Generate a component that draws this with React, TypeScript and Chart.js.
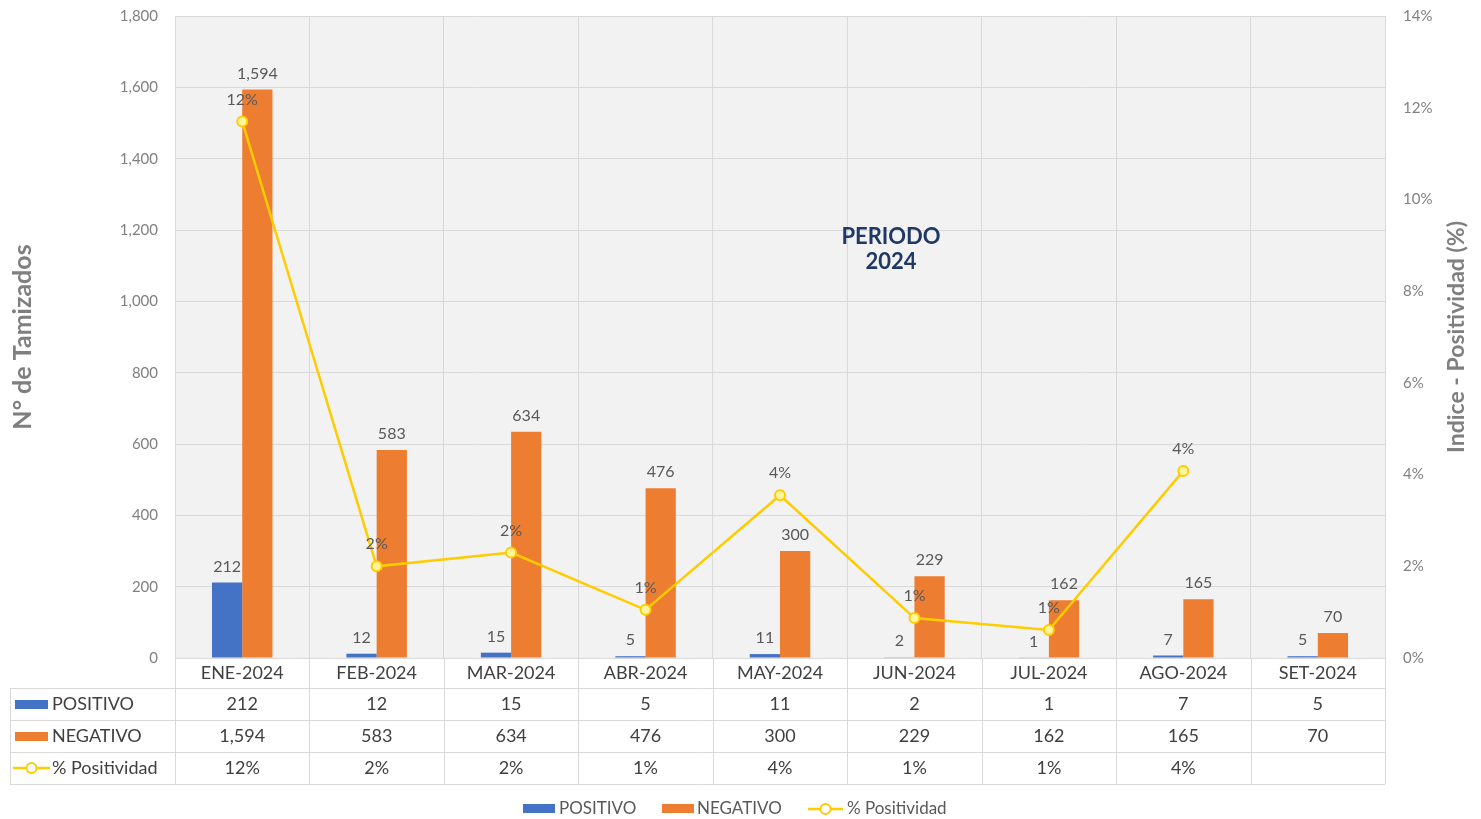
import React, { useEffect, useRef } from "react";
import { Chart, registerables } from "chart.js";

Chart.register(...registerables);

const categories = ["ENE-2024", "FEB-2024", "MAR-2024", "ABR-2024", "MAY-2024", "JUN-2024", "JUL-2024", "AGO-2024", "SET-2024"];
const positivo = [212, 12, 15, 5, 11, 2, 1, 7, 5];
const negativo = [1594, 583, 634, 476, 300, 229, 162, 165, 70];
const positividad: (number | null)[] = [11.7, 2.0, 2.3, 1.05, 3.55, 0.87, 0.61, 4.08, null];
const positividadLabels = ["12%", "2%", "2%", "1%", "4%", "1%", "1%", "4%", ""];
const seriesNames = ["POSITIVO", "NEGATIVO", "% Positividad"];
const leftTitle = "N° de Tamizados";
const rightTitle = "Indice - Positividad (%)";
const centerTitle = ["PERIODO", "2024"];

const BLUE = "#4472C4";
const ORANGE = "#ED7D31";
const YELLOW = "#FFCC00";
const FONT = "Lato, 'Open Sans', sans-serif";
const fmt = (v: number) => v.toLocaleString("en-US");

function drawLineKey(ctx: CanvasRenderingContext2D, x1: number, x2: number, y: number) {
  ctx.save();
  ctx.strokeStyle = YELLOW;
  ctx.lineWidth = 2.5;
  ctx.beginPath();
  ctx.moveTo(x1, y);
  ctx.lineTo(x2, y);
  ctx.stroke();
  ctx.beginPath();
  ctx.arc((x1 + x2) / 2, y, 5, 0, Math.PI * 2);
  ctx.fillStyle = "#ffffff";
  ctx.fill();
  ctx.lineWidth = 2;
  ctx.stroke();
  ctx.restore();
}

const customPlugin = {
  id: "custom",
  beforeDraw(chart: any) {
    const { ctx, chartArea } = chart;
    ctx.save();
    ctx.fillStyle = "#F2F2F2";
    ctx.fillRect(chartArea.left, chartArea.top, chartArea.right - chartArea.left, chartArea.bottom - chartArea.top);
    ctx.restore();
  },
  afterDatasetsDraw(chart: any) {
    const { ctx, chartArea } = chart;
    ctx.save();
    ctx.font = `16px ${FONT}`;
    ctx.fillStyle = "#595959";
    ctx.textAlign = "center";
    ctx.textBaseline = "bottom";
    [0, 1].forEach((di) => {
      const meta = chart.getDatasetMeta(di);
      const data = di === 0 ? positivo : negativo;
      meta.data.forEach((el: any, i: number) => {
        ctx.fillText(fmt(data[i]), el.x, el.y - 8);
      });
    });
    const lmeta = chart.getDatasetMeta(2);
    lmeta.data.forEach((el: any, i: number) => {
      if (positividad[i] == null) return;
      ctx.fillText(positividadLabels[i], el.x, el.y - 14);
    });

    // center title
    ctx.font = `bold 22px ${FONT}`;
    ctx.fillStyle = "#1F3864";
    ctx.textBaseline = "middle";
    ctx.fillText(centerTitle[0], 891, 237);
    ctx.fillText(centerTitle[1], 891, 262);

    // axis titles
    ctx.font = `bold 25px ${FONT}`;
    ctx.fillStyle = "#7F7F7F";
    ctx.save();
    ctx.translate(23, 337);
    ctx.rotate(-Math.PI / 2);
    ctx.fillText(leftTitle, 0, 0);
    ctx.restore();
    ctx.font = `bold 23px ${FONT}`;
    ctx.save();
    ctx.translate(1457, 337);
    ctx.rotate(-Math.PI / 2);
    ctx.fillText(rightTitle, 0, 0);
    ctx.restore();

    // data table
    const xs = chart.scales.x;
    const n = categories.length;
    const colW = (chartArea.right - chartArea.left) / n;
    const top = chartArea.bottom;
    const rows = [top, 688, 720, 752, 784];
    ctx.strokeStyle = "#D9D9D9";
    ctx.lineWidth = 1;
    ctx.beginPath();
    for (let k = 0; k <= n; k++) {
      const x = Math.round(chartArea.left + k * colW) + 0.5;
      ctx.moveTo(x, top);
      ctx.lineTo(x, 784);
    }
    for (let r = 1; r < rows.length; r++) {
      ctx.moveTo(10, rows[r] + 0.5);
      ctx.lineTo(chartArea.right, rows[r] + 0.5);
    }
    ctx.moveTo(10.5, 688);
    ctx.lineTo(10.5, 784);
    ctx.stroke();

    ctx.font = `18px ${FONT}`;
    ctx.fillStyle = "#404040";
    ctx.textAlign = "center";
    ctx.textBaseline = "middle";
    categories.forEach((c, i) => {
      const cx = xs.getPixelForValue(i);
      ctx.fillText(c, cx, 673);
      ctx.fillText(fmt(positivo[i]), cx, 704);
      ctx.fillText(fmt(negativo[i]), cx, 736);
      if (positividad[i] != null) ctx.fillText(positividadLabels[i], cx, 768);
    });
    // row headers
    ctx.textAlign = "left";
    ctx.fillStyle = BLUE;
    ctx.fillRect(15, 700, 33, 9);
    ctx.fillStyle = ORANGE;
    ctx.fillRect(15, 732, 33, 9);
    drawLineKey(ctx, 13, 50, 768);
    ctx.fillStyle = "#404040";
    ctx.fillText(seriesNames[0], 52, 704);
    ctx.fillText(seriesNames[1], 52, 736);
    ctx.fillText(seriesNames[2], 52, 768);

    // bottom legend
    ctx.font = `17px ${FONT}`;
    ctx.fillStyle = BLUE;
    ctx.fillRect(523, 804, 32, 9);
    ctx.fillStyle = ORANGE;
    ctx.fillRect(662, 804, 32, 9);
    drawLineKey(ctx, 808, 843, 809);
    ctx.fillStyle = "#595959";
    ctx.fillText(seriesNames[0], 559, 809);
    ctx.fillText(seriesNames[1], 697, 809);
    ctx.fillText(seriesNames[2], 847, 809);
    ctx.restore();
  },
};

export default function App() {
  const ref = useRef<HTMLCanvasElement>(null);
  useEffect(() => {
    if (!ref.current) return;
    const chart = new Chart(ref.current, {
      type: "bar",
      data: {
        labels: categories,
        datasets: [
          { type: "bar", label: seriesNames[0], data: positivo, backgroundColor: BLUE, yAxisID: "y", order: 2, categoryPercentage: 0.45, barPercentage: 1 },
          { type: "bar", label: seriesNames[1], data: negativo, backgroundColor: ORANGE, yAxisID: "y", order: 2, categoryPercentage: 0.45, barPercentage: 1 },
          {
            type: "line", label: seriesNames[2], data: positividad as any, borderColor: YELLOW, borderWidth: 2.5,
            pointRadius: 5, pointBorderWidth: 2, pointBackgroundColor: "#FFF59D", pointBorderColor: YELLOW,
            yAxisID: "y1", order: 0, tension: 0, spanGaps: false,
          },
        ],
      },
      options: {
        animation: false,
        responsive: false,
        layout: { padding: { top: 16, bottom: 161, left: 0, right: 0 } },
        plugins: { legend: { display: false }, tooltip: { enabled: false } },
        scales: {
          x: {
            grid: { color: "#D9D9D9", drawTicks: false, offset: true },
            border: { display: false },
            ticks: { display: false },
          },
          y: {
            position: "left",
            min: 0,
            max: 1800,
            ticks: { stepSize: 200, color: "#808080", font: { family: FONT, size: 15 }, padding: 17, callback: (v: any) => fmt(Number(v)) },
            grid: { color: "#D9D9D9", drawTicks: false },
            border: { display: false },
            afterFit: (s: any) => { s.width = 175; s.paddingTop = 0; s.paddingBottom = 0; },
          },
          y1: {
            position: "right",
            min: 0,
            max: 14,
            ticks: { stepSize: 2, color: "#808080", font: { family: FONT, size: 15 }, padding: 18, callback: (v: any) => `${v}%` },
            grid: { drawOnChartArea: false, drawTicks: false },
            border: { display: false },
            afterFit: (s: any) => { s.width = 96; s.paddingTop = 0; s.paddingBottom = 0; },
          },
        },
      },
      plugins: [customPlugin],
    });
    return () => chart.destroy();
  }, []);
  return (
    <div style={{ position: "absolute", left: 0, top: 0, width: 1481, height: 819, background: "#fff" }}>
      <canvas ref={ref} width={1481} height={819} style={{ width: 1481, height: 819 }} />
    </div>
  );
}
